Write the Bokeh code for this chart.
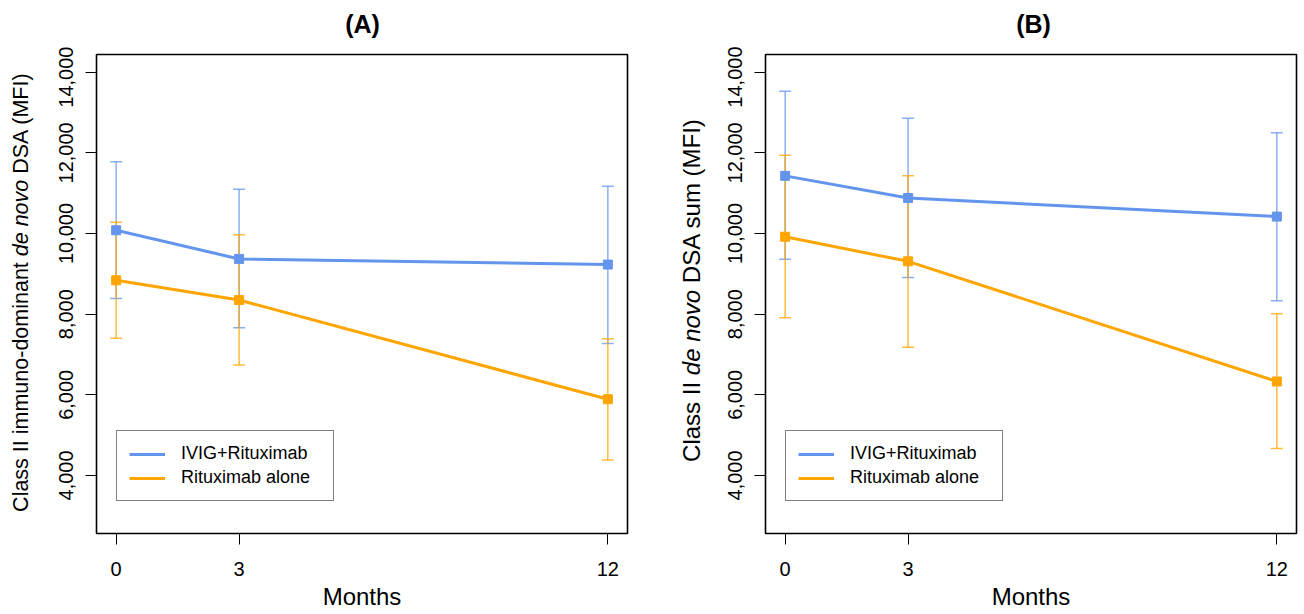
from bokeh.plotting import figure
from bokeh.models import (Range1d, FixedTicker, NumeralTickFormatter, Whisker, TeeHead,
                          ColumnDataSource, Legend, LegendItem)
from bokeh.core.properties import value
from bokeh.layouts import row, column
from bokeh.embed import file_html
from bokeh.resources import INLINE

months = [0, 3, 12]
x_ticks = [0, 3, 12]
y_ticks = [4000, 6000, 8000, 10000, 12000, 14000]
series_names = ["IVIG+Rituximab", "Rituximab alone"]
panel_titles = ["(A)", "(B)"]

# Panel A: Class II immuno-dominant de novo DSA
a_ivig_mean = [10080, 9370, 9230]
a_ivig_upper = [11780, 11100, 11170]
a_ivig_lower = [8390, 7660, 7270]
a_rtx_mean = [8840, 8350, 5890]
a_rtx_upper = [10280, 9970, 7390]
a_rtx_lower = [7400, 6740, 4380]

# Panel B: Class II de novo DSA sum
b_ivig_mean = [11430, 10880, 10420]
b_ivig_upper = [13530, 12860, 12500]
b_ivig_lower = [9360, 8910, 8330]
b_rtx_mean = [9920, 9310, 6330]
b_rtx_upper = [11940, 11430, 8010]
b_rtx_lower = [7910, 7180, 4670]

BLUE = "#6495ED"
ORANGE = "#FFA500"
FONT = "Liberation Sans"
TITLE_H = 46
HEIGHT = 614 - TITLE_H
FRAME_W = 531
BORDER_TOP, BORDER_BOTTOM = 8, 81
FRAME_H = HEIGHT - BORDER_TOP - BORDER_BOTTOM


# Arial/Liberation Sans advance widths (em) of label pieces
def em_width(s):
    w = {'C': .722, 'l': .222, 'a': .556, 's': .5, ' ': .278, 'I': .278, 'i': .222, 'm': .833,
         'u': .556, 'n': .556, 'o': .556, '-': .333, 'd': .556, 't': .278, 'e': .556, 'v': .5,
         'D': .722, 'S': .667, 'A': .667, '(': .333, ')': .333, 'M': .833, 'F': .611}
    return sum(w.get(c, .556) for c in s)


def blank(width, height, bt=0, bb=0, yr=None):
    f = figure(width=width, height=height, output_backend="svg", toolbar_location=None,
               x_range=Range1d(0, width), y_range=Range1d(0, yr if yr else height),
               x_axis_location=None, y_axis_location=None,
               min_border=0, min_border_left=0, min_border_right=0,
               min_border_top=bt, min_border_bottom=bb)
    f.grid.visible = False
    f.outline_line_color = None
    return f


def make_title(width, text, xc):
    f = blank(width, TITLE_H)
    f.text(x=[xc], y=[TITLE_H - 23], text=[text], text_align="center",
           text_baseline="middle", text_font=value(FONT), text_font_size=value("25px"),
           text_font_style="bold", text_color="black")
    return f


def make_ylabel(width, parts, size, xc, y_start):
    """Narrow strip holding the rotated y-axis title (mixed upright/italic).
    Its frame is aligned with the panels' frames by the row layout, so y is
    measured in pixels from the bottom of the panel frame."""
    f = blank(width, HEIGHT, BORDER_TOP, BORDER_BOTTOM, FRAME_H)
    pos = y_start
    for text, style in parts:
        f.text(x=[xc], y=[pos], text=[text], angle=1.5707963267948966,
               text_align="left", text_baseline="middle",
               text_font=value(FONT), text_font_size=value(f"{size}px"),
               text_font_style=style, text_color="black")
        pos += (em_width(text) + em_width(" ")) * size
    return f


def make_panel(ivig, rtx, border_left, border_right):
    p = figure(width=border_left + FRAME_W + border_right, height=HEIGHT,
               output_backend="svg", toolbar_location=None,
               x_range=Range1d(-0.48, 12.48), y_range=Range1d(2560, 14440),
               min_border_left=border_left, min_border_right=border_right,
               min_border_top=BORDER_TOP, min_border_bottom=BORDER_BOTTOM)
    p.grid.visible = False
    p.background_fill_color = "white"
    p.outline_line_color = "black"
    p.outline_line_width = 1.6
    p.outline_line_alpha = 1.0

    for ax in (p.xaxis[0], p.yaxis[0]):
        ax.axis_line_color = None
        ax.major_tick_line_color = "black"
        ax.major_tick_line_width = 1
        ax.major_tick_out = 11
        ax.major_tick_in = 0
        ax.minor_tick_line_color = None
        ax.major_label_text_font = FONT
        ax.major_label_text_font_size = "20px"
        ax.major_label_text_color = "black"

    p.xaxis.ticker = FixedTicker(ticks=x_ticks)
    p.xaxis.major_label_standoff = 17
    p.xaxis.axis_label = "Months"
    p.xaxis.axis_label_text_font = FONT
    p.xaxis.axis_label_text_font_size = "24px"
    p.xaxis.axis_label_text_font_style = "normal"
    p.xaxis.axis_label_text_color = "black"
    p.xaxis.axis_label_standoff = 4

    p.yaxis.ticker = FixedTicker(ticks=y_ticks)
    p.yaxis.formatter = NumeralTickFormatter(format="0,0")
    p.yaxis.major_label_orientation = "vertical"
    p.yaxis.major_label_standoff = 12

    legend_items = []
    for (mean, upper, lower), color, name in zip((ivig, rtx), (BLUE, ORANGE), series_names):
        src = ColumnDataSource(dict(x=months, y=mean, upper=upper, lower=lower))
        w = Whisker(source=src, base="x", upper="upper", lower="lower", dimension="height",
                    line_color=color, line_width=1.5, line_alpha=0.75,
                    upper_head=TeeHead(size=12, line_color=color, line_width=1.5, line_alpha=0.75),
                    lower_head=TeeHead(size=12, line_color=color, line_width=1.5, line_alpha=0.75))
        p.add_layout(w)
        ln = p.line("x", "y", source=src, line_color=color, line_width=3)
        p.scatter("x", "y", source=src, marker="square", size=9,
                  fill_color=color, line_color=color)
        legend_items.append(LegendItem(label=name, renderers=[ln]))

    legend = Legend(items=legend_items, location=(20, 32), orientation="vertical",
                    border_line_color="black", border_line_width=1.3,
                    background_fill_color="white", background_fill_alpha=1,
                    padding=12, spacing=3, margin=0,
                    glyph_width=36, glyph_height=20, label_height=20, label_width=140,
                    label_standoff=16, label_text_font=FONT,
                    label_text_font_size="18px", label_text_color="black")
    p.add_layout(legend, "center")
    return p


titleA = make_title(652, panel_titles[0], 362)
titleB = make_title(652, panel_titles[1], 381)
labA = make_ylabel(40, [("Class II immuno-dominant", "normal"), ("de novo", "italic"),
                        ("DSA (MFI)", "normal")], 21.5, 20, 21.6)
pA = make_panel((a_ivig_mean, a_ivig_upper, a_ivig_lower),
                (a_rtx_mean, a_rtx_upper, a_rtx_lower), 56, 25)
labB = make_ylabel(60, [("Class II", "normal"), ("de novo", "italic"),
                        ("DSA sum (MFI)", "normal")], 24, 39, 71.6)
pB = make_panel((b_ivig_mean, b_ivig_upper, b_ivig_lower),
                (b_rtx_mean, b_rtx_upper, b_rtx_lower), 53, 8)

layout = column(row(titleA, titleB, spacing=0),
                row(labA, pA, labB, pB, spacing=0), spacing=0)
open("out.html", "w").write(file_html(layout, INLINE))
